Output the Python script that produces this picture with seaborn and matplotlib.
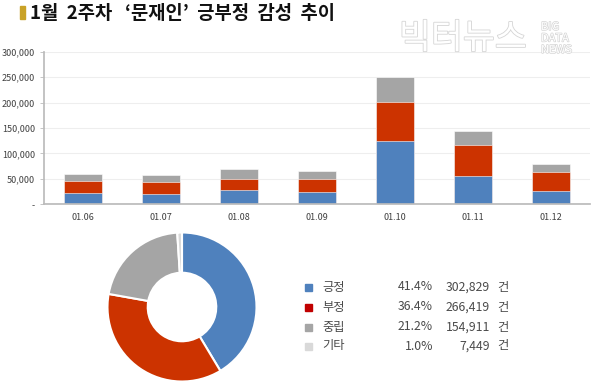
import matplotlib
matplotlib.use("Agg")
import matplotlib.pyplot as plt
import matplotlib.patheffects as pe
import seaborn as sns
import pandas as pd
import numpy as np

sns.set_theme(style="white")
plt.rcParams['font.family'] = ['Noto Sans CJK KR', 'DejaVu Sans']

# ---- data ----
dates = ["01.06", "01.07", "01.08", "01.09", "01.10", "01.11", "01.12"]
positive = [21600, 19700, 27500, 23600, 124400, 55600, 26700]
negative = [23600, 24100, 21600, 26700, 76700, 61000, 36800]
neutral = [14400, 14400, 20900, 15700, 49800, 27500, 16300]

pie_labels = ["긍정", "부정", "중립", "기타"]
pie_pct = ["41.4%", "36.4%", "21.2%", "1.0%"]
pie_counts = [302829, 266419, 154911, 7449]

title = "1월  2주차   ‘문재인’  긍부정  감성  추이"

c_blue = "#4F81BD"
c_red = "#CC3300"
c_gray = "#A5A5A5"
c_light = "#D9D9D9"
legend_colors = ["#4F81BD", "#C00000", "#A5A5A5", "#D9D9D9"]

df = pd.DataFrame({"date": dates, "pos": positive, "neg": negative, "neu": neutral})
df["c1"] = df["pos"]
df["c2"] = df["pos"] + df["neg"]
df["c3"] = df["c2"] + df["neu"]

fig = plt.figure(figsize=(6, 3.9), dpi=100)

# title
fig.patches.append(plt.Rectangle((20/600, 1-19/390), 5/600, 13/390, transform=fig.transFigure,
                                 color="#C9A227", zorder=3))
fig.text(30/600, 1-13.5/390, title, fontsize=13.5, fontweight="bold", color="#111111",
         va="center", ha="left")

# watermark (outlined)
wm = [pe.withStroke(linewidth=1.2, foreground="#D5D5D5")]
t = fig.text(399/600, 1-39/390, "빅터뉴스", fontsize=25, color="white", va="center", ha="left",
             fontweight="light")
t.set_path_effects([pe.Stroke(linewidth=1.2, foreground="#D5D5D5"), pe.Normal()])
for i, w in enumerate(["BIG", "DATA", "NEWS"]):
    tt = fig.text(541/600, 1-(27 + 11.5*i)/390, w, fontsize=8, color="white", va="center", ha="left")
    tt.set_path_effects([pe.Stroke(linewidth=1.0, foreground="#D5D5D5"), pe.Normal()])

# bar chart
ax = fig.add_axes([44/600, 1-204.3/390, 546/600, 152.6/390])
sns.barplot(data=df, x="date", y="c3", color=c_gray, width=0.49, ax=ax, saturation=1)
sns.barplot(data=df, x="date", y="c2", color=c_red, width=0.49, ax=ax, saturation=1)
sns.barplot(data=df, x="date", y="c1", color=c_blue, width=0.49, ax=ax, saturation=1)
for p in ax.patches:
    p.set_edgecolor("white")
    p.set_linewidth(0.4)
ax.set_ylim(0, 300000)
ax.set_xlim(-0.5, len(dates) - 0.5)
yt = np.arange(0, 300001, 50000)
ax.set_yticks(yt)
ax.set_yticklabels(["-" if v == 0 else f"{v:,}" for v in yt])
ax.set_xlabel("")
ax.set_ylabel("")
ax.tick_params(axis="both", labelsize=6.5, colors="#404040", length=3, width=0.6)
ax.tick_params(axis="x", length=0, pad=6)
ax.tick_params(axis="y", left=True, color="#BBBBBB")
ax.yaxis.grid(True, color="#EEEEEE", linewidth=0.8)
ax.set_axisbelow(True)
for s in ["top", "right"]:
    ax.spines[s].set_visible(False)
ax.spines["left"].set_color("#BBBBBB")
ax.spines["bottom"].set_color("#BBBBBB")
ax.patch.set_alpha(0)

# donut
pax = fig.add_axes([106/600, 1-383/390, 152/600, 152/390])
pax.pie(pie_counts, colors=[c_blue, c_red, c_gray, c_light], startangle=90, counterclock=False,
        radius=1, wedgeprops=dict(width=0.54, edgecolor="white", linewidth=1.5))
pax.set_xlim(-1.02, 1.02)
pax.set_ylim(-1.02, 1.02)
pax.set_aspect("equal")
pax.axis("off")

# legend table
rows_y = [287, 307, 327, 346]
for lab, pct, cnt, col, yy in zip(pie_labels, pie_pct, pie_counts, legend_colors, rows_y):
    fy = 1 - yy / 390
    fig.patches.append(plt.Rectangle((305/600, fy - 3.5/390), 7/600, 7/390,
                                     transform=fig.transFigure, color=col))
    fig.text(322/600, fy, lab, fontsize=8.8, color="#4A4A4A", va="center", ha="left")
    fig.text(433/600, fy, pct, fontsize=8.8, color="#4A4A4A", va="center", ha="right")
    fig.text(490/600, fy, f"{cnt:,}", fontsize=8.8, color="#4A4A4A", va="center", ha="right")
    fig.text(497/600, fy, "건", fontsize=8.8, color="#4A4A4A", va="center", ha="left")

fig.savefig("out.png", dpi=100)
